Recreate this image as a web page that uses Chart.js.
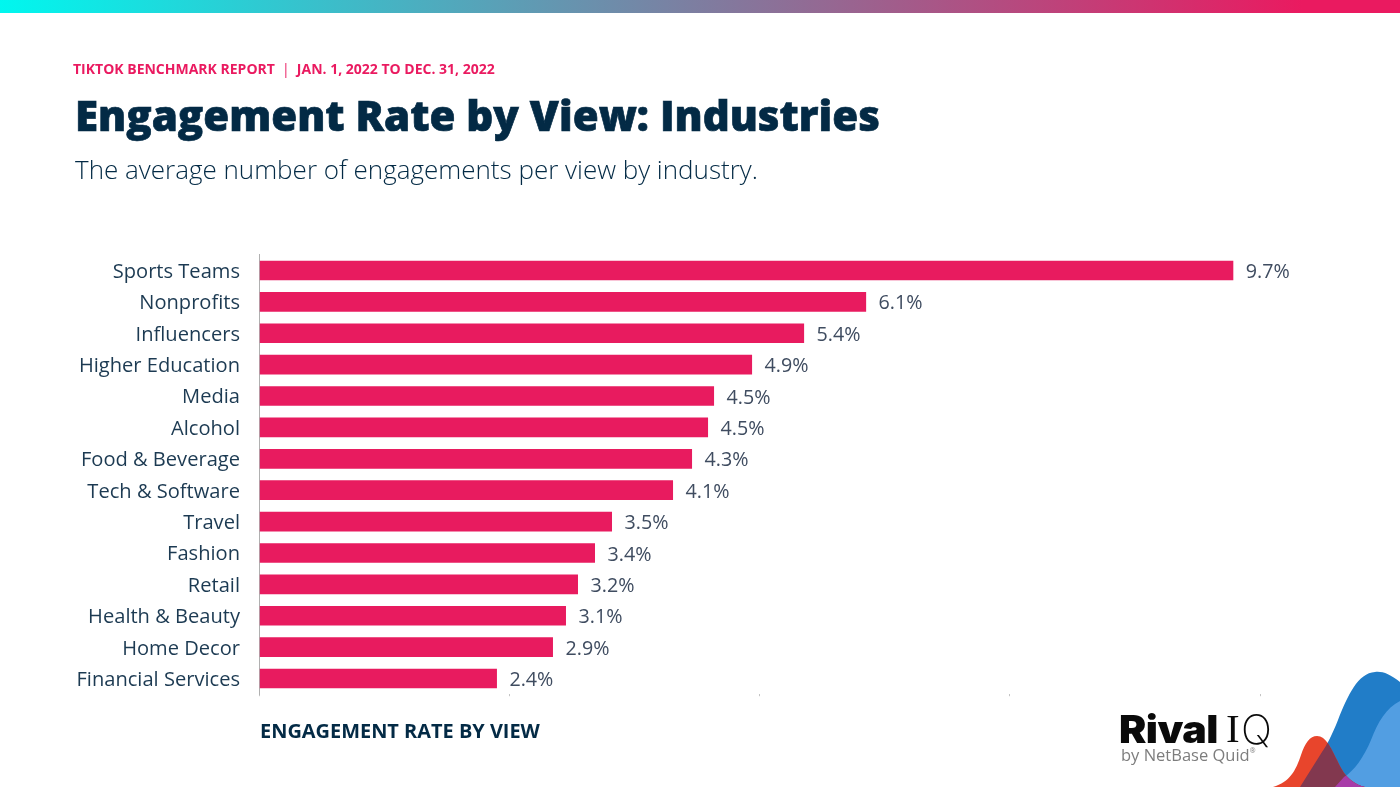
<!DOCTYPE html>
<html><head><meta charset="utf-8">
<script src="https://cdn.jsdelivr.net/npm/chart.js@4/dist/chart.umd.min.js"></script>
<style>
html,body{margin:0;padding:0;background:#fff;width:1400px;height:787px;overflow:hidden;font-family:"Open Sans",sans-serif}
#bar{position:absolute;left:0;top:0;width:1400px;height:13px;background:linear-gradient(90deg,#00f7ef 0%,#7e7da0 50%,#ea1a60 93%,#ea1a60 100%)}
.t{position:absolute;white-space:nowrap;will-change:transform}
#eyebrow{left:73px;top:59.5px;font-size:14px;line-height:18px;font-weight:700;color:#ea1a60}
#eyebrow span{font-weight:400;margin:0 3.5px}
#title{left:75px;top:87px;font-size:42px;line-height:56px;font-weight:800;color:#032a45;-webkit-text-stroke:.7px #032a45}
#sub{left:75px;top:151px;font-size:26px;line-height:36px;font-weight:300;color:#032a45}
#xtitle{left:259.5px;top:717px;font-size:19.95px;line-height:27px;font-weight:700;color:#032a45}
#c{position:absolute;left:0;top:0}
#hills{position:absolute;left:1260px;top:660px}
#rival{left:1119px;top:706px;font-family:Inter,sans-serif;font-size:38px;line-height:46px;font-weight:900;color:#0a0a0a;letter-spacing:-.5px;transform:scaleX(1.08);transform-origin:left}
#iqi{left:1226px;top:704px;font-family:"Liberation Serif",serif;font-size:41px;line-height:48px;font-weight:400;color:#0a0a0a}
#iqq{left:1240.5px;top:705px;font-family:Inter,sans-serif;font-size:41px;line-height:48px;font-weight:200;color:#0a0a0a}
#by{left:1121px;top:740px;font-size:16.5px;line-height:22px;color:#7d7d7d}
#by sup{font-size:7px;vertical-align:8px}
</style></head><body>
<div id="bar"></div>
<div class="t" id="eyebrow">TIKTOK BENCHMARK REPORT <span>|</span> JAN. 1, 2022 TO DEC. 31, 2022</div>
<div class="t" id="title">Engagement Rate by View: Industries</div>
<div class="t" id="sub">The average number of engagements per view by industry.</div>
<canvas id="c" width="1400" height="787"></canvas>
<div class="t" id="xtitle">ENGAGEMENT RATE BY VIEW</div>
<svg id="hills" width="140" height="127" viewBox="1260 660 140 127">
<defs>
<path id="dk" d="M1400 682C1390 674 1382 671 1375 672C1358 673 1348 695 1338 720C1332 735 1327 745 1322 752L1300 787H1400Z"/>
<path id="rd" d="M1273 787C1290 782 1296 770 1301 755C1305 743 1310 736 1317 736C1326 736 1331 748 1337 760C1341 769 1346 777 1352 781C1356 784 1360 786 1365 787Z"/>
<clipPath id="cd"><use href="#dk"/></clipPath>
<clipPath id="cl"><path d="M1400 701C1386 708 1378 722 1371 740C1364 757 1354 771 1344 777L1335 787H1400Z"/></clipPath>
</defs>
<use href="#dk" fill="#217dc8"/>
<rect x="1260" y="660" width="140" height="127" fill="#529ee2" clip-path="url(#cl)"/>
<use href="#rd" fill="#e8452c"/>
<g clip-path="url(#cd)"><use href="#rd" fill="#82384f"/></g>
<g clip-path="url(#cl)"><use href="#rd" fill="#a83ca8"/></g>
</svg>
<div class="t" id="rival">Rival</div>
<div class="t" id="iqi">I</div>
<div class="t" id="iqq">Q</div>
<div class="t" id="by">by NetBase Quid<sup>®</sup></div>
<script>
const categories=["Sports Teams","Nonprofits","Influencers","Higher Education","Media","Alcohol","Food & Beverage","Tech & Software","Travel","Fashion","Retail","Health & Beauty","Home Decor","Financial Services"];
const values=[9.73,6.06,5.44,4.92,4.54,4.48,4.32,4.13,3.52,3.35,3.18,3.06,2.93,2.37];
const valueLabels=["9.7%","6.1%","5.4%","4.9%","4.5%","4.5%","4.3%","4.1%","3.5%","3.4%","3.2%","3.1%","2.9%","2.4%"];
const xTicks=[0,2.5,5,7.5,10];

const valueLabelPlugin={id:'valueLabels',afterDatasetsDraw(chart){
  const {ctx}=chart;const meta=chart.getDatasetMeta(0);
  ctx.save();ctx.font='400 19.7px "Open Sans"';ctx.fillStyle='#3f4c60';ctx.textAlign='left';ctx.textBaseline='middle';
  meta.data.forEach((b,i)=>ctx.fillText(valueLabels[i],b.x+12.8,b.y+2));
  ctx.restore();
}};
Chart.defaults.font.family='"Open Sans"';
const chart=new Chart(document.getElementById('c'),{
  type:'bar',
  data:{labels:categories,datasets:[{data:values,backgroundColor:'#e81b5f',barThickness:19,borderWidth:0}]},
  plugins:[valueLabelPlugin],
  options:{
    indexAxis:'y',responsive:false,animation:false,
    plugins:{legend:{display:false},tooltip:{enabled:false},title:{display:false}},
    layout:{padding:{top:254.8,right:140,left:0,bottom:0}},
    scales:{
      x:{min:0,max:10,
        afterBuildTicks(s){s.ticks=xTicks.map(v=>({value:v}));},
        afterFit(s){s.height=787-694.2;},
        grid:{display:true,drawOnChartArea:false,drawTicks:true,tickLength:2,color:'#c4c4c4',lineWidth:1},
        border:{display:false},
        ticks:{display:false}},
      y:{
        afterFit(s){s.width=259.5;},
        grid:{display:false},
        border:{display:true,color:'#b0b0b0',width:1},
        ticks:{color:'#1c3a52',font:{size:20.1,weight:'400'},padding:11.5,autoSkip:false}}
    }
  }
});
// Nudge the native category labels down to sit on the bar centres as the reference does
const yScale=chart.scales.y,drawLabels=yScale.drawLabels;
yScale.drawLabels=function(area){const c=this.ctx;c.save();c.translate(0,1.7);drawLabels.call(this,area);c.restore();};
chart.draw();
</script>
</body></html>
